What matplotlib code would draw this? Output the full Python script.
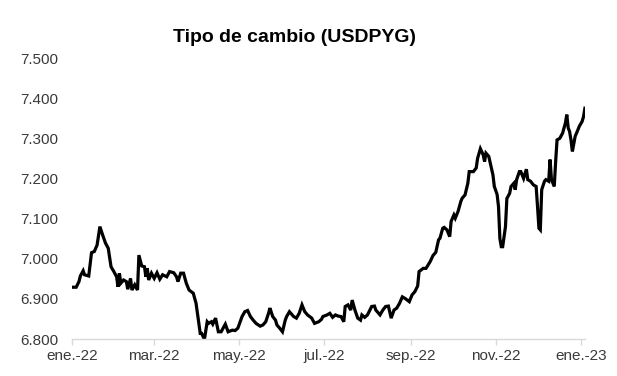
import matplotlib
matplotlib.use("Agg")
import matplotlib.pyplot as plt
import matplotlib.ticker as mticker
import pandas as pd

# ── Data: USD/PYG exchange rate (guaraníes per dollar) ──────────
dates = [
    "2022-01-01", "2022-01-04", "2022-01-06", "2022-01-07", "2022-01-09", "2022-01-10",
    "2022-01-13", "2022-01-15", "2022-01-17", "2022-01-19", "2022-01-21", "2022-01-23",
    "2022-01-25", "2022-01-27", "2022-01-29", "2022-01-31", "2022-02-02", "2022-02-03",
    "2022-02-04", "2022-02-05", "2022-02-07", "2022-02-09", "2022-02-10", "2022-02-12",
    "2022-02-13", "2022-02-15", "2022-02-17", "2022-02-18", "2022-02-20", "2022-02-22",
    "2022-02-23", "2022-02-24", "2022-02-25", "2022-02-27", "2022-03-01", "2022-03-03",
    "2022-03-05", "2022-03-07", "2022-03-10", "2022-03-12", "2022-03-15", "2022-03-17",
    "2022-03-18", "2022-03-20", "2022-03-22", "2022-03-24", "2022-03-26", "2022-03-29",
    "2022-03-31", "2022-04-02", "2022-04-03", "2022-04-04", "2022-04-06", "2022-04-08",
    "2022-04-09", "2022-04-11", "2022-04-12", "2022-04-14", "2022-04-16", "2022-04-18",
    "2022-04-21", "2022-04-23", "2022-04-26", "2022-04-28", "2022-04-30", "2022-05-03",
    "2022-05-05", "2022-05-07", "2022-05-09", "2022-05-11", "2022-05-13", "2022-05-16",
    "2022-05-18", "2022-05-20", "2022-05-22", "2022-05-23", "2022-05-25", "2022-05-27",
    "2022-05-28", "2022-05-30", "2022-06-01", "2022-06-03", "2022-06-04", "2022-06-06",
    "2022-06-09", "2022-06-11", "2022-06-13", "2022-06-15", "2022-06-17", "2022-06-19",
    "2022-06-22", "2022-06-24", "2022-06-27", "2022-06-29", "2022-06-30", "2022-07-03",
    "2022-07-05", "2022-07-07", "2022-07-09", "2022-07-11", "2022-07-13", "2022-07-15",
    "2022-07-16", "2022-07-18", "2022-07-20", "2022-07-21", "2022-07-23", "2022-07-25",
    "2022-07-27", "2022-07-28", "2022-07-30", "2022-08-01", "2022-08-04", "2022-08-06",
    "2022-08-07", "2022-08-10", "2022-08-12", "2022-08-14", "2022-08-16", "2022-08-18",
    "2022-08-20", "2022-08-22", "2022-08-24", "2022-08-26", "2022-08-28", "2022-08-31",
    "2022-09-02", "2022-09-04", "2022-09-06", "2022-09-07", "2022-09-10", "2022-09-12",
    "2022-09-15", "2022-09-17", "2022-09-19", "2022-09-21", "2022-09-22", "2022-09-24",
    "2022-09-25", "2022-09-27", "2022-09-29", "2022-09-30", "2022-10-02", "2022-10-03",
    "2022-10-05", "2022-10-07", "2022-10-08", "2022-10-10", "2022-10-12", "2022-10-13",
    "2022-10-16", "2022-10-18", "2022-10-19", "2022-10-21", "2022-10-23", "2022-10-24",
    "2022-10-25", "2022-10-27", "2022-10-28", "2022-10-30", "2022-10-31", "2022-11-02",
    "2022-11-03", "2022-11-04", "2022-11-05", "2022-11-06", "2022-11-08", "2022-11-09",
    "2022-11-11", "2022-11-12", "2022-11-14", "2022-11-15", "2022-11-16", "2022-11-18",
    "2022-11-19", "2022-11-21", "2022-11-23", "2022-11-24", "2022-11-26", "2022-11-28",
    "2022-11-30", "2022-12-01", "2022-12-02", "2022-12-03", "2022-12-04", "2022-12-06",
    "2022-12-07", "2022-12-09", "2022-12-10", "2022-12-11", "2022-12-13", "2022-12-14",
    "2022-12-15", "2022-12-17", "2022-12-19", "2022-12-21", "2022-12-22", "2022-12-23",
    "2022-12-24", "2022-12-25", "2022-12-26", "2022-12-28", "2022-12-29", "2022-12-31",
    "2023-01-02", "2023-01-03", "2023-01-04",
]
usdpyg = [
    6929, 6929, 6943, 6957, 6970, 6960,
    6957, 7015, 7018, 7034, 7080, 7059,
    7039, 7026, 6980, 6968, 6955, 6930,
    6964, 6939, 6947, 6943, 6924, 6951,
    6922, 6935, 6922, 7009, 6982, 6980,
    6955, 6976, 6947, 6964, 6951, 6965,
    6949, 6960, 6955, 6968, 6965, 6955,
    6943, 6964, 6964, 6939, 6922, 6914,
    6889, 6839, 6814, 6814, 6799, 6843,
    6839, 6843, 6837, 6852, 6818, 6818,
    6837, 6818, 6822, 6821, 6827, 6856,
    6868, 6871, 6856, 6847, 6839, 6832,
    6835, 6843, 6864, 6877, 6856, 6847,
    6835, 6827, 6818, 6847, 6856, 6868,
    6856, 6852, 6864, 6885, 6868, 6860,
    6852, 6839, 6843, 6849, 6856, 6860,
    6864, 6854, 6860, 6857, 6856, 6843,
    6881, 6885, 6872, 6897, 6872, 6852,
    6847, 6860, 6854, 6860, 6881, 6882,
    6872, 6860, 6872, 6881, 6882, 6852,
    6872, 6877, 6889, 6905, 6901, 6893,
    6910, 6918, 6932, 6968, 6976, 6976,
    6993, 7008, 7016, 7047, 7051, 7076,
    7078, 7072, 7055, 7093, 7109, 7101,
    7118, 7143, 7151, 7159, 7188, 7217,
    7217, 7226, 7250, 7274, 7259, 7242,
    7263, 7255, 7240, 7209, 7180, 7160,
    7130, 7050, 7030, 7030, 7080, 7150,
    7163, 7180, 7188, 7172, 7197, 7217,
    7217, 7200, 7223, 7197, 7193, 7184,
    7180, 7130, 7076, 7072, 7172, 7193,
    7197, 7193, 7247, 7197, 7180, 7242,
    7296, 7300, 7313, 7338, 7359, 7326,
    7317, 7296, 7267, 7305, 7313, 7330,
    7342, 7354, 7375,
]
tick_dates = ["2022-01-01", "2022-03-01", "2022-05-01", "2022-07-01",
              "2022-09-01", "2022-11-01", "2023-01-01"]
tick_labels = ["ene.-22", "mar.-22", "may.-22", "jul.-22",
               "sep.-22", "nov.-22", "ene.-23"]

plt.rcParams["font.family"] = ["Liberation Sans", "DejaVu Sans"]

fig = plt.figure(figsize=(6.17, 3.76), dpi=100)
ax = fig.add_axes([0.1167, 0.0984, 0.8313, 0.7473])

ax.plot(pd.to_datetime(dates), usdpyg, color="black", linewidth=2.3,
        solid_joinstyle="miter")

ax.set_xlim(pd.Timestamp("2022-01-01"), pd.Timestamp("2023-01-04"))
ax.set_ylim(6800, 7500)
ax.yaxis.set_major_locator(mticker.MultipleLocator(100))
ax.yaxis.set_major_formatter(
    mticker.FuncFormatter(lambda v, p: f"{v:,.0f}".replace(",", ".")))

ax.set_xticks(pd.to_datetime(tick_dates))
ax.set_xticklabels(tick_labels)

for s in ["top", "right", "left"]:
    ax.spines[s].set_visible(False)
ax.spines["bottom"].set_color("#d9d9d9")
ax.spines["bottom"].set_linewidth(1.0)

ax.tick_params(axis="y", length=0, pad=10, labelsize=11, labelcolor="#3a3a3a")
ax.tick_params(axis="x", length=4, width=1.0, color="#d9d9d9", pad=3,
               labelsize=11, labelcolor="#3a3a3a")

fig.text(0.477, 0.90, "Tipo de cambio (USDPYG)", ha="center", va="center",
         fontsize=14, fontweight="bold", color="black")

fig.savefig("out.png", dpi=100, facecolor="white")
